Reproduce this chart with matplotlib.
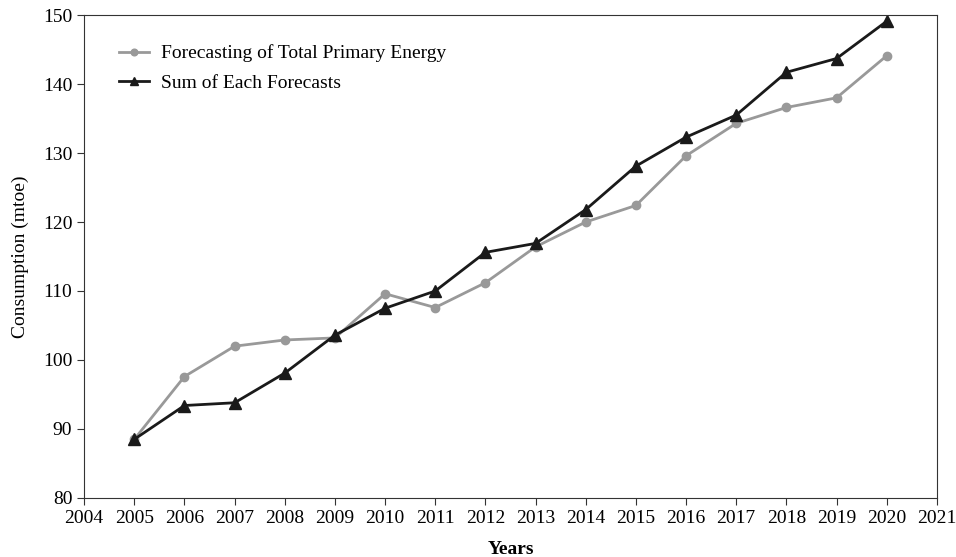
import matplotlib
matplotlib.use("Agg")
import matplotlib.pyplot as plt

plt.rcParams["font.family"] = ["Liberation Serif", "DejaVu Serif"]

years = [2005, 2006, 2007, 2008, 2009, 2010, 2011, 2012,
         2013, 2014, 2015, 2016, 2017, 2018, 2019, 2020]
total_primary = [88.5, 97.6, 102.0, 102.9, 103.2, 109.6, 107.6, 111.2,
                 116.4, 120.0, 122.4, 129.6, 134.3, 136.6, 138.0, 144.1]
sum_forecasts = [88.5, 93.4, 93.8, 98.1, 103.6, 107.5, 110.0, 115.6,
                 116.9, 121.8, 128.1, 132.3, 135.5, 141.7, 143.7, 149.1]

fig = plt.figure(figsize=(9.56, 5.57), dpi=100)
ax = fig.add_axes([0.088, 0.106, 0.892, 0.867])

ax.plot(years, total_primary, color="#999999", lw=2, marker="o", ms=6,
        label="Forecasting of Total Primary Energy")
ax.plot(years, sum_forecasts, color="#1a1a1a", lw=2, marker="^", ms=8,
        label="Sum of Each Forecasts")

ax.set_xlim(2004, 2021)
ax.set_ylim(80, 150)
ax.set_xticks(range(2004, 2022))
ax.set_yticks(range(80, 151, 10))
ax.tick_params(direction="out", length=5, labelsize=14, color="#333333")
for s in ax.spines.values():
    s.set_color("#333333")

ax.set_xlabel("Years", fontsize=14, fontweight="bold", labelpad=10)
ax.set_ylabel("Consumption (mtoe)", fontsize=14, labelpad=10)

leg = ax.legend(loc="upper left", bbox_to_anchor=(0.02, 0.975), frameon=False,
                fontsize=14, handlelength=1.55, handletextpad=0.65,
                labelspacing=0.6, markerscale=0.8)

fig.savefig("out.png", dpi=100)
